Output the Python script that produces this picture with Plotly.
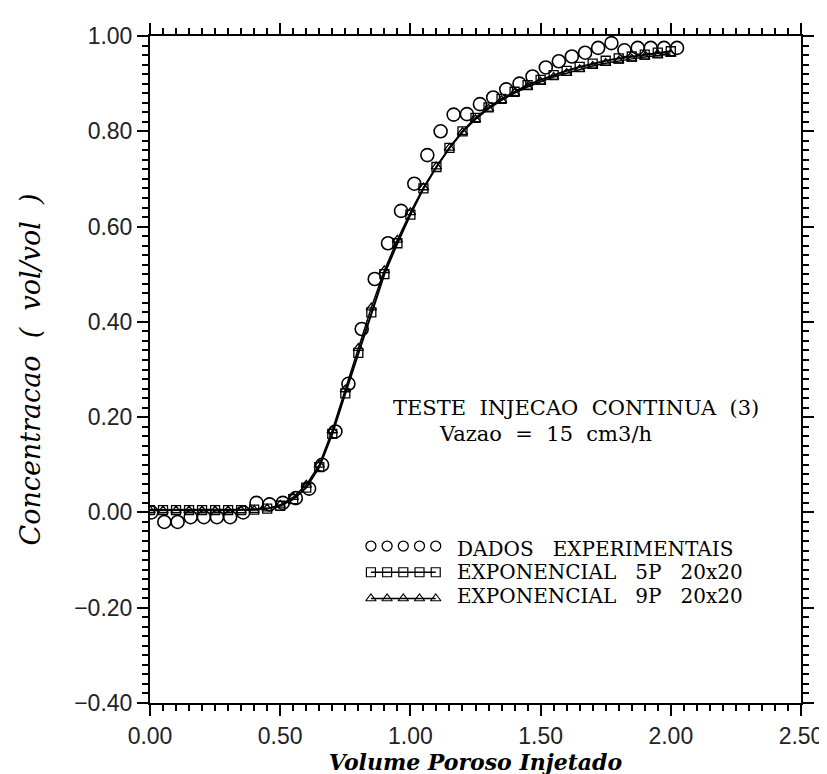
import plotly.graph_objects as go

# experimental data (circles)
x_exp = [0.005, 0.055, 0.106, 0.156, 0.207, 0.257, 0.308, 0.358, 0.409, 0.459,
         0.51, 0.56, 0.611, 0.661, 0.712, 0.762, 0.813, 0.863, 0.914, 0.964,
         1.015, 1.065, 1.116, 1.166, 1.217, 1.267, 1.318, 1.368, 1.419, 1.469,
         1.52, 1.57, 1.62, 1.671, 1.721, 1.772, 1.822, 1.873, 1.923, 1.974, 2.024]
y_exp = [0.0, -0.02, -0.02, -0.01, -0.01, -0.01, -0.01, 0.0, 0.02, 0.017,
         0.02, 0.03, 0.05, 0.10, 0.17, 0.27, 0.385, 0.49, 0.565, 0.633,
         0.69, 0.75, 0.80, 0.835, 0.836, 0.857, 0.871, 0.888, 0.90, 0.915,
         0.934, 0.947, 0.957, 0.965, 0.975, 0.985, 0.97, 0.975, 0.975, 0.975, 0.975]

# model curves
x_mod = [0.00, 0.05, 0.10, 0.15, 0.20, 0.25, 0.30, 0.35, 0.40, 0.45,
         0.50, 0.55, 0.60, 0.65, 0.70, 0.75, 0.80, 0.85, 0.90, 0.95,
         1.00, 1.05, 1.10, 1.15, 1.20, 1.25, 1.30, 1.35, 1.40, 1.45,
         1.50, 1.55, 1.60, 1.65, 1.70, 1.75, 1.80, 1.85, 1.90, 1.95, 2.00]
y_5p = [0.005, 0.005, 0.005, 0.005, 0.005, 0.005, 0.005, 0.005, 0.006, 0.008,
        0.014, 0.028, 0.052, 0.095, 0.165, 0.25, 0.335, 0.42, 0.50, 0.565,
        0.625, 0.68, 0.725, 0.765, 0.80, 0.828, 0.85, 0.868, 0.883, 0.897,
        0.908, 0.918, 0.927, 0.935, 0.942, 0.948, 0.953, 0.957, 0.961, 0.965, 0.968]
y_9p = [0.004, 0.004, 0.004, 0.004, 0.004, 0.004, 0.004, 0.004, 0.005, 0.008,
        0.016, 0.032, 0.058, 0.10, 0.172, 0.258, 0.345, 0.43, 0.508, 0.572,
        0.63, 0.682, 0.726, 0.765, 0.798, 0.825, 0.847, 0.865, 0.88, 0.893,
        0.904, 0.914, 0.922, 0.93, 0.937, 0.943, 0.948, 0.952, 0.956, 0.959, 0.962]

legend_labels = ["DADOS   EXPERIMENTAIS", "EXPONENCIAL   5P   20x20", "EXPONENCIAL   9P   20x20"]

SERIF = "DejaVu Serif"
SANS = "Liberation Sans"

fig = go.Figure()
fig.add_trace(go.Scatter(x=x_mod, y=y_5p, mode="lines+markers",
                         line=dict(color="black", width=2),
                         marker=dict(symbol="square-open", size=9, color="black", line=dict(width=1.3))))
fig.add_trace(go.Scatter(x=x_mod, y=y_9p, mode="lines+markers",
                         line=dict(color="black", width=1.5),
                         marker=dict(symbol="triangle-up-open", size=9, color="black", line=dict(width=1.3))))
fig.add_trace(go.Scatter(x=x_exp, y=y_exp, mode="markers",
                         marker=dict(symbol="circle-open", size=13, color="black", line=dict(width=1.6))))

# legend glyphs on a hidden helper axis
glyph_x = [i * 16 for i in range(5)]
fig.add_trace(go.Scatter(x=glyph_x, y=[2] * 5, mode="markers", xaxis="x3", yaxis="y3",
                         marker=dict(symbol="circle-open", size=10, color="black", line=dict(width=1.3))))
fig.add_trace(go.Scatter(x=glyph_x, y=[1] * 5, mode="lines+markers", xaxis="x3", yaxis="y3",
                         line=dict(color="black", width=1.3),
                         marker=dict(symbol="square-open", size=9, color="black", line=dict(width=1.2))))
fig.add_trace(go.Scatter(x=glyph_x, y=[0] * 5, mode="lines+markers", xaxis="x3", yaxis="y3",
                         line=dict(color="black", width=1.3),
                         marker=dict(symbol="triangle-up-open", size=9, color="black", line=dict(width=1.2))))

tickfont = dict(family=SANS, size=23, color="#222")

fig.update_layout(
    width=827, height=774,
    margin=dict(l=142, r=30, t=28, b=70),
    paper_bgcolor="white", plot_bgcolor="white",
    showlegend=False,
    xaxis=dict(range=[0, 2.5], tickvals=[0, 0.5, 1.0, 1.5, 2.0, 2.5],
               ticktext=["0.00", "0.50", "1.00", "1.50", "2.00", "2.50"],
               showgrid=False, zeroline=False, showline=True, linecolor="black", linewidth=2,
               mirror="allticks",
               ticks="outside", ticklen=11, tickwidth=2, tickcolor="black",
               minor=dict(dtick=0.05, ticks="outside", ticklen=6, tickwidth=1.5, tickcolor="black"),
               tickfont=tickfont,
               title=dict(text="Volume Poroso Injetado",
                          font=dict(family=SERIF, size=22, color="black", style="italic", weight="bold"),
                          standoff=6)),
    yaxis=dict(range=[-0.4, 1.0], tickvals=[-0.4, -0.2, 0, 0.2, 0.4, 0.6, 0.8, 1.0],
               ticktext=["\u22120.40", "\u22120.20", "0.00", "0.20", "0.40", "0.60", "0.80", "1.00"],
               showgrid=False, zeroline=False, showline=True, linecolor="black", linewidth=2,
               mirror="allticks",
               ticks="outside", ticklen=11, tickwidth=2, tickcolor="black",
               minor=dict(dtick=0.02, ticks="outside", ticklen=6, tickwidth=1.5, tickcolor="black"),
               tickfont=tickfont,
               title=dict(text="Concentracao  (  vol/vol  )",
                          font=dict(family=SERIF, size=27, color="black", style="italic"),
                          standoff=26)),
    xaxis3=dict(domain=[0.33, 0.47], range=[-6, 84], visible=False, anchor="y3"),
    yaxis3=dict(domain=[0.137, 0.255], range=[-0.5, 2.5], visible=False, anchor="x3"),
)

fig.add_annotation(text="TESTE  INJECAO  CONTINUA  (3)", xref="paper", yref="paper",
                   x=0.655, y=0.442, showarrow=False, yanchor="middle",
                   font=dict(family=SERIF, size=21, color="black"))
fig.add_annotation(text="Vazao  =  15  cm3/h", xref="paper", yref="paper",
                   x=0.608, y=0.403, showarrow=False, yanchor="middle",
                   font=dict(family=SERIF, size=21, color="black"))
for i, lab in enumerate(legend_labels):
    fig.add_annotation(text=lab, xref="paper", yref="paper", x=0.468, y=0.231 - i * 0.035,
                       xanchor="left", yanchor="middle", showarrow=False,
                       font=dict(family=SERIF, size=20, color="black"))

fig.write_html("out.html")
